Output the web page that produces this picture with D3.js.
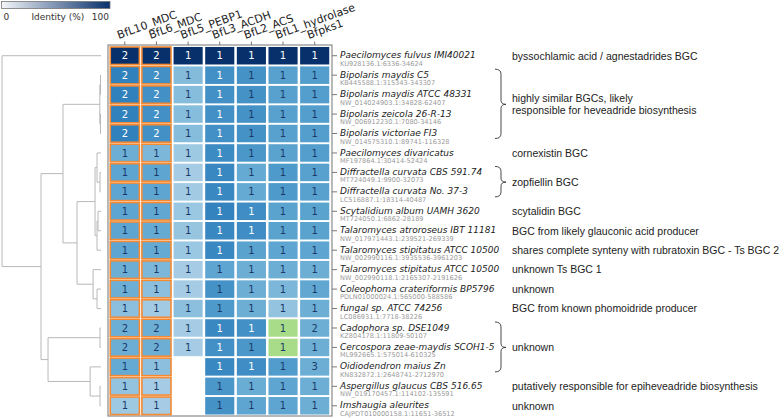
<!DOCTYPE html>
<html><head><meta charset="utf-8">
<script src="https://cdn.jsdelivr.net/npm/d3@7"></script>
<style>body{margin:0;background:#fff}svg{display:block}</style>
</head><body><svg id="c" width="784" height="418"></svg>
<script>
const columns = ["BfL10_MDC","BfL6_MDC","BfL5_PEBP1","BfL3_ACDH","BfL2_ACS","BfL1_hydrolase","Bfpks1"];
const species = ["Paecilomyces fulvus IMI40021","Bipolaris maydis C5","Bipolaris maydis ATCC 48331","Bipolaris zeicola 26-R-13","Bipolaris victoriae FI3","Paecilomyces divaricatus","Diffractella curvata CBS 591.74","Diffractella curvata No. 37-3","Scytalidium album UAMH 3620","Talaromyces atroroseus IBT 11181","Talaromyces stipitatus ATCC 10500","Talaromyces stipitatus ATCC 10500","Coleophoma crateriformis BP5796","fungal sp. ATCC 74256","Cadophora sp. DSE1049","Cercospora zeae-maydis SCOH1-5","Oidiodendron maius Zn","Aspergillus glaucus CBS 516.65","Imshaugia aleurites"];
const accessions = ["KU928136.1:6336-34624","KB445588.1:315343-343307","NW_014024903.1:34828-62407","NW_006912230.1:7080-34146","NW_014575310.1:89741-116328","MF197864.1:30414-52424","MT724049.1:9900-32073","LC516887.1:18314-40487","MT724050.1:6862-28189","NW_017971443.1:239521-269339","NW_002990116.1:3935536-3961203","NW_002990118.1:2165307-2191626","PDLN01000024.1:565000-588586","LC086931.1:7718-38226","KZ804178.1:11809-50107","ML992665.1:575014-610325","KN832872.1:2648741-2712970","NW_019170457.1:114102-135591","CAJPDT010000158.1:11651-36512"];
// identity (%) per row x column; null = no hit
const identity = [
  [100,100,100,100,100,100,100],
  [69,63,44,63,62,56,57],
  [69,63,43,63,62,56,57],
  [69,63,43,63,62,56,57],
  [69,63,43,63,62,56,57],
  [50,46,37,65,60,55,57],
  [54,54,35,66,52,59,56],
  [54,54,36,66,52,59,56],
  [54,53,38,68,64,55,55],
  [54,52,39,66,64,55,55],
  [54,52,38,66,55,54,54],
  [50,46,35,54,50,50,50],
  [50,42,35,62,50,46,53],
  [42,36,42,59,50,40,50],
  [50,50,35,66,63,60,50],
  [50,50,35,63,60,60,50],
  [52,42,null,66,64,58,50],
  [40,35,null,60,51,54,50],
  [37,35,null,62,54,54,50]
];
// number of hits per cell
const counts = [
  [2,2,1,1,1,1,1],[2,2,1,1,1,1,1],[2,2,1,1,1,1,1],[2,2,1,1,1,1,1],[2,2,1,1,1,1,1],
  [1,1,1,1,1,1,1],[1,1,1,1,1,1,1],[1,1,1,1,1,1,1],[1,1,1,1,1,1,1],[1,1,1,1,1,1,1],
  [1,1,1,1,1,1,1],[1,1,1,1,1,1,1],[1,1,1,1,1,1,1],[1,1,1,1,1,1,1],
  [2,2,1,1,1,1,2],[2,2,1,1,1,1,1],
  [1,1,null,1,1,1,3],[1,1,null,1,1,1,1],[1,1,null,1,1,1,1]
];
// cells flagged in green [row, col]
const greenCells = [[14,5],[15,5]];
// columns highlighted with orange outline
const orangeCols = [0,1];
// annotations: text lines, first row, last row, brace
const annotations = [
  {lines:["byssochlamic acid / agnestadrides BGC"], r0:0, r1:0},
  {lines:["highly similar BGCs, likely","responsible for heveadride biosynthesis"], r0:1, r1:4, brace:true},
  {lines:["cornexistin BGC"], r0:5, r1:5},
  {lines:["zopfiellin BGC"], r0:6, r1:7, brace:true},
  {lines:["scytalidin BGC"], r0:8, r1:8},
  {lines:["BGC from likely glauconic acid producer"], r0:9, r1:9},
  {lines:["shares complete synteny with rubratoxin BGC - Ts BGC 2"], r0:10, r1:10},
  {lines:["unknown Ts BGC 1"], r0:11, r1:11},
  {lines:["unknown"], r0:12, r1:12},
  {lines:["BGC from known phomoidride producer"], r0:13, r1:13},
  {lines:["unknown"], r0:14, r1:16, brace:true},
  {lines:["putatively responsible for epiheveadride biosynthesis"], r0:17, r1:17},
  {lines:["unknown"], r0:18, r1:18}
];
// dendrogram (leaf = row index, h = merge height, relative)
const tree = {h:1.0, c:[0, {h:0.606, c:[
  {h:0.384, c:[
    {h:0.012, c:[{h:0.005,c:[1,2]},{h:0.005,c:[3,4]}]},
    {h:0.242, c:[
      {h:0.06, c:[{h:0.04, c:[5,{h:0.01,c:[6,7]}]}, {h:0.04, c:[{h:0.03,c:[8,9]},10]}]},
      {h:0.08, c:[11, {h:0.04, c:[12,13]}]}
    ]}
  ]},
  {h:0.535, c:[
    {h:0.01, c:[14,15]},
    {h:0.11, c:[16, {h:0.01, c:[17,18]}]}
  ]}
]}]};
const legendTicks = ["0","Identity (%)","100"];

const svg = d3.select("#c");
const FONT = "'DejaVu Sans', Verdana, sans-serif";
const x = d3.scaleBand().domain(d3.range(columns.length)).range([109, 330.5]).paddingInner(0.08).paddingOuter(0.04);
const y = d3.scaleBand().domain(d3.range(species.length)).range([46, 415.5]).paddingInner(0.1).paddingOuter(0.05);
const color = d3.scaleSequential(d3.interpolateBlues).domain([0,100]);
const yc = i => y(i) + y.bandwidth()/2;

// legend
const defs = svg.append("defs");
const lg = defs.append("linearGradient").attr("id","lg");
lg.append("stop").attr("offset","0%").attr("stop-color","#f4f6fa");
lg.append("stop").attr("offset","100%").attr("stop-color","#08306b");
const lx = d3.scaleLinear().domain([0,100]).range([1.5,110]);
svg.append("rect").attr("x",lx(0)).attr("y",1.5).attr("width",lx(100)-lx(0)).attr("height",7)
  .attr("fill","url(#lg)").attr("stroke","#777").attr("stroke-width",0.8);
svg.append("text").attr("x",lx(0)+2).attr("y",20).text(legendTicks[0]).attr("font-family",FONT).attr("font-size",9).attr("fill","#333");
svg.append("text").attr("x",lx(52)).attr("y",20).attr("text-anchor","middle").text(legendTicks[1]).attr("font-family",FONT).attr("font-size",9).attr("fill","#333");
svg.append("text").attr("x",lx(100)-1).attr("y",20).attr("text-anchor","end").text(legendTicks[2]).attr("font-family",FONT).attr("font-size",9).attr("fill","#333");

// frame
svg.append("rect").attr("x",108).attr("y",45).attr("width",224).attr("height",371)
  .attr("fill","none").attr("stroke","#8a8a8a").attr("stroke-width",1.2);

// cells
const cells = [];
identity.forEach((row,i)=>row.forEach((v,j)=>{ if(v!==null) cells.push({i,j,v,n:counts[i][j]}); }));
const isGreen = (i,j)=>greenCells.some(g=>g[0]===i&&g[1]===j);
const g = svg.append("g");
g.selectAll("rect.cell").data(cells).join("rect").attr("class","cell")
  .attr("x",d=>x(d.j)).attr("y",d=>y(d.i)).attr("width",x.bandwidth()).attr("height",y.bandwidth())
  .attr("fill",d=>isGreen(d.i,d.j)?"#a9dc88":color(d.v))
  .attr("stroke",d=>orangeCols.includes(d.j)?"#f58a32":"none").attr("stroke-width",1.6);
g.selectAll("text.num").data(cells).join("text").attr("class","num")
  .attr("x",d=>x(d.j)+x.bandwidth()/2).attr("y",d=>yc(d.i)+3.6)
  .attr("text-anchor","middle").attr("font-family",FONT).attr("font-size",10)
  .attr("fill",d=>(!isGreen(d.i,d.j) && d.v>=63)?"#ffffff":"#1b3a6a")
  .text(d=>d.n);

// top ticks + column labels
columns.forEach((c,j)=>{
  const cx = x(j)+x.bandwidth()/2;
  svg.append("line").attr("x1",cx).attr("x2",cx).attr("y1",41.5).attr("y2",45).attr("stroke","#777");
  svg.append("text").attr("transform",`translate(${cx-6},39) rotate(-20)`)
    .attr("font-family",FONT).attr("font-size",11).attr("fill","#222").text(c);
});

// right ticks + row labels
species.forEach((s,i)=>{
  const cy = yc(i);
  svg.append("line").attr("x1",332).attr("x2",337).attr("y1",cy).attr("y2",cy).attr("stroke","#777");
  svg.append("text").attr("x",340).attr("y",y(i)+11.3).attr("font-family",FONT).attr("font-style","italic")
    .attr("font-size",9).attr("fill","#222").text(s);
  svg.append("text").attr("x",340).attr("y",y(i)+18.8).attr("font-family",FONT)
    .attr("font-size",6.6).attr("fill","#9a9a9a").text(accessions[i]);
});

// annotations + braces
annotations.forEach(a=>{
  const top = yc(a.r0), bot = yc(a.r1), mid = (top+bot)/2;
  const lh = 11.5;
  a.lines.forEach((t,k)=>{
    svg.append("text").attr("x",512).attr("y",mid + 3.8 + (k-(a.lines.length-1)/2)*lh)
      .attr("font-family","'Liberation Sans', Arial, sans-serif").attr("font-size",10.5).attr("fill","#222").text(t);
  });
  if(a.brace){
    const t0 = top-6, b0 = bot+5, xl = 495, xm = 501, xt = 506;
    const p = `M${xl},${t0} Q${xm},${t0} ${xm},${t0+5} L${xm},${mid-4} Q${xm},${mid} ${xt},${mid} Q${xm},${mid} ${xm},${mid+4} L${xm},${b0-5} Q${xm},${b0} ${xl},${b0}`;
    svg.append("path").attr("d",p).attr("fill","none").attr("stroke","#333").attr("stroke-width",0.9);
  }
});

// dendrogram
const root = d3.hierarchy(tree, d => typeof d === "number" ? null : d.c);
const dx = d3.scaleLinear().domain([1,0]).range([2,101]);
const hOf = n => typeof n.data === "number" ? 0 : n.data.h;
root.eachAfter(n=>{
  if(!n.children) n.py = yc(n.data);
  else n.py = (n.children[0].py + n.children[n.children.length-1].py)/2;
});
const dg = svg.append("g").attr("stroke","#b8b8b8").attr("stroke-width",1).attr("fill","none");
root.each(n=>{
  if(!n.children) return;
  const xn = dx(hOf(n));
  dg.append("line").attr("x1",xn).attr("x2",xn).attr("y1",n.children[0].py).attr("y2",n.children[n.children.length-1].py);
  n.children.forEach(ch=>{
    dg.append("line").attr("x1",xn).attr("x2",dx(hOf(ch))).attr("y1",ch.py).attr("y2",ch.py);
  });
});
</script></body></html>
